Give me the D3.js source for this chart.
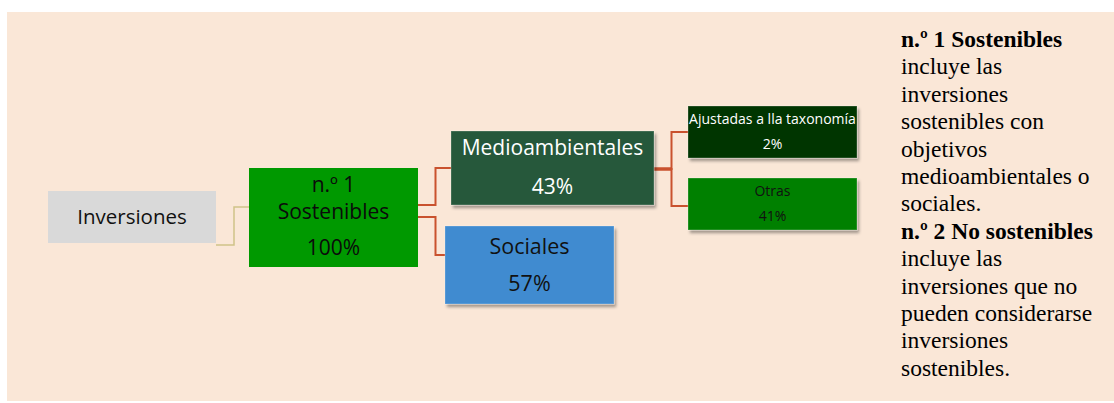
<!DOCTYPE html>
<html>
<head>
<meta charset="utf-8">
<script src="https://cdn.jsdelivr.net/npm/d3@7"></script>
<style>
  body { margin: 0; background: #ffffff; }
  svg { display: block; }
</style>
</head>
<body>
<script>
// tree data
var nodeIds = ["inv", "sost", "medio", "soc", "ajust", "otras"];
var nodeParents = [null, "inv", "sost", "sost", "medio", "medio"];
var nodeLabels = [["Inversiones"], ["n.º 1", "Sostenibles"], ["Medioambientales"], ["Sociales"], ["Ajustadas a lla taxonomía"], ["Otras"]];
var nodeValues = [null, 100, 43, 57, 2, 41];

// side note text
var noteLines = [
    ["n.º 1 Sostenibles", true], ["incluye las", false], ["inversiones", false],
    ["sostenibles con", false], ["objetivos", false], ["medioambientales o", false],
    ["sociales.", false], ["n.º 2 No sostenibles", true], ["incluye las", false],
    ["inversiones que no", false], ["pueden considerarse", false], ["inversiones", false],
    ["sostenibles.", false]
];

// layout (positions / styles kept apart from the data)
var layout = {
    inv:   {x: 48,  y: 191, w: 168, h: 52, fill: "#d9d9d9", color: "#111", size: 20.5, lines: [26], shadow: false, outY: 245, inY: null},
    sost:  {x: 249, y: 168, w: 169, h: 99, fill: "#009900", color: "#0b0b0b", size: 21, lines: [17, 44, 80], shadow: false, outY: null, inY: 207},
    medio: {x: 451, y: 131, w: 203, h: 74, fill: "#27583b", color: "#ffffff", size: 21, lines: [17, 56], shadow: true, outY: 169, inY: 168},
    soc:   {x: 445, y: 226, w: 169, h: 78, fill: "#3f8bd0", color: "#111", size: 21.5, lines: [20, 57], shadow: true, inY: 255},
    ajust: {x: 688, y: 106, w: 169, h: 52, fill: "#023604", color: "#ffffff", size: 14, lines: [13, 38], shadow: true, inY: 132},
    otras: {x: 688, y: 178, w: 169, h: 52, fill: "#008000", color: "#111", size: 14, lines: [13, 38], shadow: true, inY: 206}
};
var sostOut = {medio: 205, soc: 217};

var width = 1114, height = 403;

var svg = d3.select("body").append("svg")
    .attr("width", width)
    .attr("height", height);

// drop shadow for the boxes
var defs = svg.append("defs");
defs.append("filter")
    .attr("id", "shadow")
    .attr("x", "-10%").attr("y", "-10%")
    .attr("width", "130%").attr("height", "140%")
    .append("feDropShadow")
    .attr("dx", 2).attr("dy", 3)
    .attr("stdDeviation", 1.8)
    .attr("flood-color", "#000")
    .attr("flood-opacity", 0.35);

// background panel
svg.append("rect")
    .attr("x", 7).attr("y", 12)
    .attr("width", width - 7).attr("height", 389)
    .attr("fill", "#fae7d7");

var nodes = nodeIds.map(function(id, i){
    return {id: id, parent: nodeParents[i], labels: nodeLabels[i], value: nodeValues[i]};
});
var root = d3.stratify()
    .id(function(d){ return d.id; })
    .parentId(function(d){ return d.parent; })(nodes);

// elbow links
var linkGen = function(l){
    var s = layout[l.source.id], t = layout[l.target.id];
    var y0 = l.source.id == "sost" ? sostOut[l.target.id] : s.outY;
    var x0 = s.x + s.w, x1 = t.x;
    var xm = x0 + (l.source.id == "inv" ? 18 : 17.5);
    var p = d3.path();
    p.moveTo(x0, y0);
    p.lineTo(xm, y0);
    p.lineTo(xm, t.inY);
    p.lineTo(x1, t.inY);
    return p.toString();
};

svg.append("g").selectAll("path")
    .data(root.links())
    .enter()
    .append("path")
    .attr("d", linkGen)
    .attr("fill", "none")
    .attr("stroke", function(l){ return l.source.id == "inv" ? "#cfc389" : "#c9522e"; })
    .attr("stroke-width", function(l){ return l.source.id == "inv" ? 1.5 : 2; });

// thicker stem out of Medioambientales
svg.append("line")
    .attr("x1", layout.medio.x + layout.medio.w).attr("x2", layout.medio.x + layout.medio.w + 18)
    .attr("y1", layout.medio.outY).attr("y2", layout.medio.outY)
    .attr("stroke", "#c9522e").attr("stroke-width", 3.5);

// boxes
var box = svg.append("g").selectAll("g")
    .data(root.descendants())
    .enter()
    .append("g")
    .attr("transform", function(d){ var L = layout[d.id]; return "translate(" + L.x + "," + L.y + ")"; });

box.append("rect")
    .attr("width", function(d){ return layout[d.id].w; })
    .attr("height", function(d){ return layout[d.id].h; })
    .attr("fill", function(d){ return layout[d.id].fill; })
    .attr("stroke", function(d){ return layout[d.id].shadow ? "rgba(255,255,255,0.25)" : "none"; })
    .attr("stroke-width", 1)
    .attr("filter", function(d){ return layout[d.id].shadow ? "url(#shadow)" : null; });

box.each(function(d){
    var L = layout[d.id];
    var lines = d.data.labels.slice();
    if (d.data.value != null) lines.push(d.data.value + "%");
    d3.select(this).selectAll("text")
        .data(lines)
        .enter()
        .append("text")
        .attr("x", L.w / 2)
        .attr("y", function(t, i){ return L.lines[i]; })
        .attr("dy", "0.35em")
        .attr("text-anchor", "middle")
        .attr("font-family", "'Open Sans', sans-serif")
        .attr("font-size", L.size)
        .attr("fill", L.color)
        .text(function(t){ return t; });
});

// side note
svg.append("g").selectAll("text")
    .data(noteLines)
    .enter()
    .append("text")
    .attr("x", 901)
    .attr("y", function(d, i){ return 47 + i * 27.4; })
    .attr("font-family", "'Liberation Serif', 'Times New Roman', serif")
    .attr("font-size", 23.5)
    .attr("font-weight", function(d){ return d[1] ? "bold" : "normal"; })
    .attr("fill", "#000")
    .text(function(d){ return d[0]; });
</script>
</body>
</html>
